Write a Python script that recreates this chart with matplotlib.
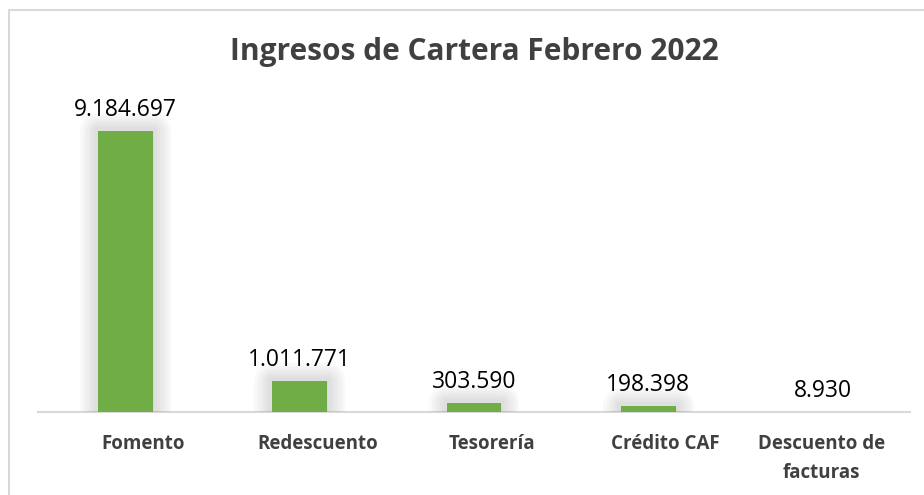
import matplotlib
matplotlib.use("Agg")
import matplotlib.pyplot as plt
from matplotlib import patheffects as pe
from matplotlib.patches import Rectangle
from matplotlib.transforms import ScaledTranslation

categories = ["Fomento", "Redescuento", "Tesorería", "Crédito CAF", "Descuento de\nfacturas"]
values = [9184697, 1011771, 303590, 198398, 8930]
labels = ["9.184.697", "1.011.771", "303.590", "198.398", "8.930"]

W, H = 924, 495
fig = plt.figure(figsize=(W / 100, H / 100), dpi=100)
fig.patch.set_facecolor("white")

# outer chart border
fig.add_artist(Rectangle((9 / W, -0.05), 1.2, (H - 10) / H + 0.05, transform=fig.transFigure,
                         fill=False, edgecolor="#D9D9D9", linewidth=1.5))

ax_left, ax_right = 38 / W, 910 / W
ax_bottom = 1 - 412 / H
ax_top = 1 - 100 / H
ax = fig.add_axes([ax_left, ax_bottom, ax_right - ax_left, ax_top - ax_bottom])
ymax = values[0] * (412 - 100) / (412 - 131)
ax.set_ylim(0, ymax)
ax.set_xlim(-0.5, len(categories) - 0.5)

x = list(range(len(categories)))
glow = [pe.Stroke(linewidth=lw, foreground="#808080", alpha=0.045, joinstyle="round")
        for lw in (26, 22, 18, 14, 10, 6)] + [pe.Normal()]
bars = ax.bar(x, values, width=0.315, color="#70AD47", zorder=3)
for b, v in zip(bars, values):
    if v > ymax * 0.005:
        b.set_path_effects(glow)

font = "Open Sans"
for xi, v, lab in zip(x, values, labels):
    ax.text(xi, v + ymax * 0.028, lab, ha="center", va="bottom", fontsize=16.5,
            family=font, color="#000000")

for s in ["top", "right", "left"]:
    ax.spines[s].set_visible(False)
ax.spines["bottom"].set_color("#D9D9D9")
ax.spines["bottom"].set_linewidth(1.5)
ax.set_yticks([])
ax.set_xticks(x)
ax.set_xticklabels(categories, fontsize=13.5, fontweight="bold", family=font, color="#404040",
                   linespacing=1.6)
ax.tick_params(axis="x", length=0, pad=16)
shifts_px = [18, 18, 18, 17, -1]
for t, s in zip(ax.get_xticklabels(), shifts_px):
    t.set_verticalalignment("top")
    t.set_transform(t.get_transform() + ScaledTranslation(s / 100, 0, fig.dpi_scale_trans))

fig.text((ax_left + ax_right) / 2, 1 - 52 / H, "Ingresos de Cartera Febrero 2022",
         ha="center", va="center", fontsize=21.5, fontweight="bold", family=font, color="#404040")

fig.savefig("out.png", dpi=100)
